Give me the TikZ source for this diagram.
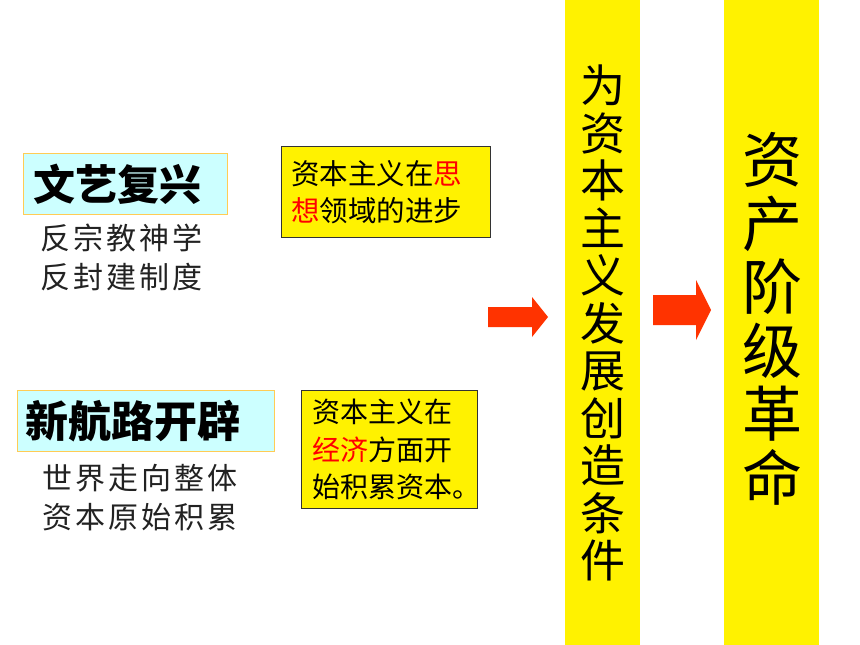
\documentclass[tikz,border=0pt]{standalone}
\usepackage{fontspec}
\newfontfamily\cjk{Noto Sans CJK SC}
\usetikzlibrary{positioning}
\definecolor{boxcyan}{HTML}{CCFFFF}
\definecolor{boxgold}{HTML}{FFCC55}
\definecolor{arrowred}{HTML}{FF3300}
\definecolor{subgray}{HTML}{222222}
\tikzset{
  titlebox/.style={draw=boxgold,fill=boxcyan,line width=1pt,anchor=north west,align=left,inner ysep=0pt,minimum height=61pt,
    font=\cjk\bfseries\fontsize{42}{48}\selectfont},
  subtext/.style={anchor=west,align=left,inner sep=0pt,text=subgray,
    font=\cjk\addfontfeature{LetterSpace=10}\fontsize{30}{39}\selectfont},
  notebox/.style={draw=black!80,fill=yellow,line width=.8pt,anchor=north west,align=left,inner ysep=0pt},
  column/.style={fill=yellow,inner sep=0pt,minimum width=#1,minimum height=645pt},
}

\begin{document}
\begin{tikzpicture}[x=1pt,y=-1pt]
\useasboundingbox (0,0) rectangle (860,645);
% two columns on the right
\node[column=75pt] (cond) at (602.5,322.5) {};
\node[column=95pt] (rev) at (771.5,322.5) {};
\node[align=center,inner sep=0pt,font=\cjk\fontsize{45}{47.5}\selectfont] (condtext) at (603,323)
  {为\\资\\本\\主\\义\\发\\展\\创\\造\\条\\件};
\node[align=center,inner sep=0pt,font=\cjk\fontsize{60}{63.5}\selectfont] (revtext) at (772,319)
  {资\\产\\阶\\级\\革\\命};
% left part
\node[titlebox,inner xsep=10pt,text width=184pt] (renais) at (23,153) {文艺复兴};
\node[subtext] (renaissub) at (40,257.5) {反宗教神学\\反封建制度};
\node[titlebox,inner xsep=8pt,text width=241pt,font=\cjk\bfseries\fontsize{43}{48}\selectfont] (route) at (17,390) {新航路开辟};
\node[subtext] (routesub) at (42,497.5) {世界走向整体\\资本原始积累};
\node[notebox,inner xsep=10pt,text width=189pt,minimum height=91pt,font=\cjk\fontsize{28.5}{37}\selectfont] (idea) at (281,146)
  {资本主义在\textcolor{red}{思}\\\textcolor{red}{想}领域的进步};
\node[notebox,inner xsep=11pt,text width=154pt,minimum height=118pt,font=\cjk\fontsize{28}{37.5}\selectfont] (econ) at (301,390)
  {资本主义在\\\textcolor{red}{经济}方面开\\始积累资本。};
% block arrows
\fill[arrowred] (488,307) -- (532,307) -- (532,297) -- (548,317) -- (532,337) -- (532,327) -- (488,327) -- cycle;
\fill[arrowred] (653,295) -- (696,295) -- (696,280) -- (711,310) -- (696,340) -- (696,325) -- (653,325) -- cycle;
\end{tikzpicture}
\end{document}
